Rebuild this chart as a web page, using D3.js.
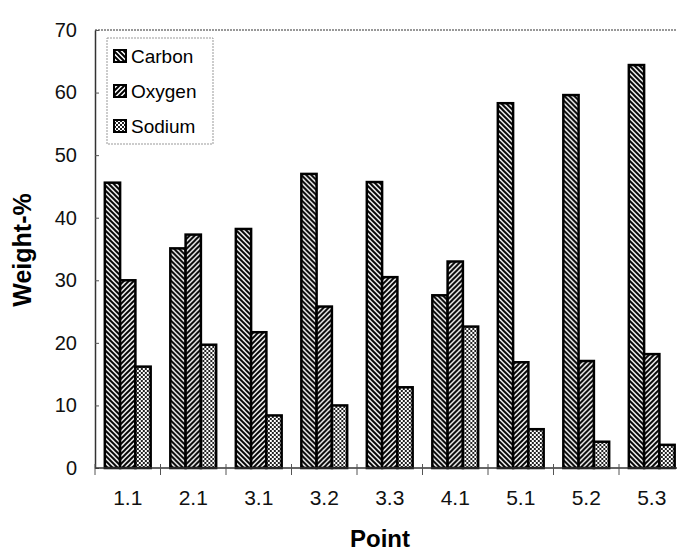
<!DOCTYPE html>
<html>
<head>
<meta charset="utf-8">
<script src="https://cdn.jsdelivr.net/npm/d3@7"></script>
<style>
  body { margin: 0; background: #fff; }
  svg { display: block; font-family: "Liberation Sans", Arial, sans-serif; }
</style>
</head>
<body>
<div id="chart"></div>
<script>
// data
const points = ["1.1", "2.1", "3.1", "3.2", "3.3", "4.1", "5.1", "5.2", "5.3"];
const seriesNames = ["Carbon", "Oxygen", "Sodium"];
const carbon = [45.6, 35.1, 38.2, 47.0, 45.7, 27.6, 58.3, 59.6, 64.4];
const oxygen = [30.0, 37.3, 21.7, 25.8, 30.5, 33.0, 16.9, 17.1, 18.2];
const sodium = [16.2, 19.7, 8.4, 10.0, 12.9, 22.6, 6.2, 4.2, 3.7];
const yTicks = [0, 10, 20, 30, 40, 50, 60, 70];

const width = 677, height = 554;
const plot = {left: 95, right: 684.5, top: 30, bottom: 468};

const svg = d3.select("#chart").append("svg")
    .attr("width", width)
    .attr("height", height);

// hatch patterns, black & white like the scan
const defs = svg.append("defs");

function hatch(id, dir) {
    let p = defs.append("pattern")
        .attr("id", id)
        .attr("patternUnits", "userSpaceOnUse")
        .attr("width", 5).attr("height", 5);
    p.append("rect").attr("width", 5).attr("height", 5).attr("fill", "#fff");
    let d = dir > 0
        ? "M-1,1 l2,-2 M0,5 l5,-5 M4,6 l2,-2"
        : "M-1,4 l2,2 M0,0 l5,5 M4,-1 l2,2";
    p.append("path").attr("d", d).attr("stroke", "#000").attr("stroke-width", 2);
}
hatch("pat-carbon", -1);
hatch("pat-oxygen", 1);

let check = defs.append("pattern")
    .attr("id", "pat-sodium")
    .attr("patternUnits", "userSpaceOnUse")
    .attr("width", 4).attr("height", 4);
check.append("rect").attr("width", 4).attr("height", 4).attr("fill", "#fff");
check.append("rect").attr("width", 2).attr("height", 2).attr("fill", "#222");
check.append("rect").attr("x", 2).attr("y", 2).attr("width", 2).attr("height", 2).attr("fill", "#222");

const fills = {Carbon: "url(#pat-carbon)", Oxygen: "url(#pat-oxygen)", Sodium: "url(#pat-sodium)"};
const seriesData = {Carbon: carbon, Oxygen: oxygen, Sodium: sodium};

// scales
const x0 = d3.scaleBand()
    .domain(points)
    .range([plot.left, plot.right])
    .paddingInner(0.3)
    .paddingOuter(0.15);

const x1 = d3.scaleBand()
    .domain(seriesNames)
    .range([0, x0.bandwidth()]);

const y = d3.scaleLinear()
    .domain([0, 70])
    .range([plot.bottom, plot.top]);

// top frame line (dotted grey in the scan)
svg.append("line")
    .attr("x1", plot.left).attr("x2", width)
    .attr("y1", y(70)).attr("y2", y(70))
    .attr("stroke", "#777").attr("stroke-width", 1.5)
    .attr("stroke-dasharray", "2,1");

// bars
const rows = points.map((p, i) => ({point: p, values: seriesNames.map(s => ({key: s, value: seriesData[s][i]}))}));

svg.append("g")
    .selectAll("g")
    .data(rows)
    .join("g")
    .attr("transform", d => `translate(${x0(d.point)},0)`)
    .selectAll("rect")
    .data(d => d.values)
    .join("rect")
    .attr("x", d => x1(d.key))
    .attr("y", d => y(d.value))
    .attr("width", x1.bandwidth())
    .attr("height", d => y(0) - y(d.value))
    .attr("fill", d => fills[d.key])
    .attr("stroke", "#000")
    .attr("stroke-width", 2.5);

// y axis
const yAxis = svg.append("g")
    .attr("transform", `translate(${plot.left},0)`)
    .call(d3.axisLeft(y).tickValues(yTicks).tickSize(5).tickSizeOuter(0).tickPadding(13));
yAxis.select(".domain").attr("stroke", "#333").attr("stroke-width", 1.5);
yAxis.selectAll(".tick line").attr("x2", 4).attr("stroke", "#555");
yAxis.selectAll("text")
    .attr("font-size", 20)
    .attr("fill", "#111")
    .style("font-family", "Liberation Sans, Arial, sans-serif");

// x axis: ticks sit between the categories
const xAxis = svg.append("g")
    .attr("transform", `translate(0,${plot.bottom})`)
    .call(d3.axisBottom(x0).tickSize(0).tickPadding(22));
xAxis.select(".domain").attr("d", `M${plot.left},0H${width}`).attr("stroke", "#333").attr("stroke-width", 1.5);
xAxis.selectAll("text")
    .attr("font-size", 21)
    .attr("fill", "#111")
    .style("font-family", "Liberation Sans, Arial, sans-serif");

xAxis.append("g")
    .selectAll("line")
    .data(points)
    .join("line")
    .attr("x1", d => x0(d) - x0.step() * x0.paddingInner() / 2)
    .attr("x2", d => x0(d) - x0.step() * x0.paddingInner() / 2)
    .attr("y1", -4).attr("y2", 7)
    .attr("stroke", "#555");

// axis titles
svg.append("text")
    .attr("transform", "translate(31,250) rotate(-90)")
    .attr("text-anchor", "middle")
    .attr("font-size", 25)
    .attr("font-weight", "bold")
    .text("Weight-%");

svg.append("text")
    .attr("x", 380)
    .attr("y", 547)
    .attr("text-anchor", "middle")
    .attr("font-size", 24)
    .attr("font-weight", "bold")
    .text("Point");

// legend
const legend = svg.append("g").attr("transform", "translate(107,38)");
legend.append("rect")
    .attr("width", 106).attr("height", 106)
    .attr("fill", "#fff")
    .attr("stroke", "#999").attr("stroke-width", 1)
    .attr("stroke-dasharray", "2,1");

const items = legend.selectAll("g.item")
    .data(seriesNames)
    .join("g")
    .attr("class", "item")
    .attr("transform", (d, i) => `translate(7,${18 + i * 35})`);

items.append("rect")
    .attr("x", 0).attr("y", -6)
    .attr("width", 12).attr("height", 12)
    .attr("fill", d => fills[d])
    .attr("stroke", "#000").attr("stroke-width", 2);

items.append("text")
    .attr("x", 17).attr("y", 7)
    .attr("font-size", 19)
    .text(d => d);
</script>
</body>
</html>
